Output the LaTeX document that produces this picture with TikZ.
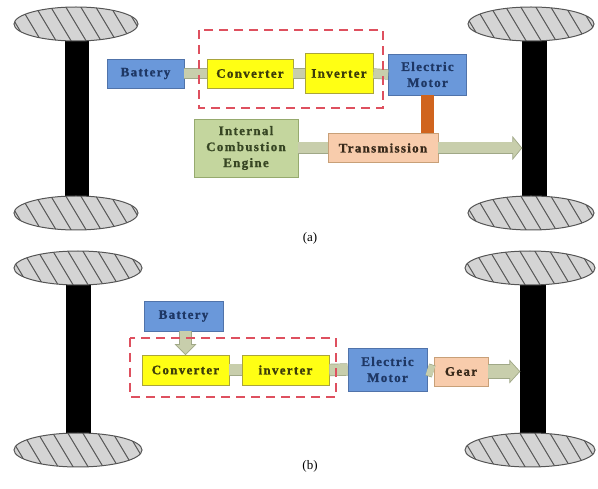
\documentclass[tikz,border=0pt]{standalone}
\usepackage{fontspec}
\setmainfont{Liberation Serif}
\newfontfamily\lblfam[LetterSpace=10, FakeBold=1.2]{Liberation Serif Bold}
\usetikzlibrary{calc}
\definecolor{bluef}{RGB}{106,152,218}
\definecolor{blued}{RGB}{80,115,170}
\definecolor{bluet}{RGB}{30,55,100}
\definecolor{yelf}{RGB}{255,255,20}
\definecolor{yeld}{RGB}{170,165,60}
\definecolor{yelt}{RGB}{60,60,10}
\definecolor{grnf}{RGB}{196,214,158}
\definecolor{grnd}{RGB}{150,170,110}
\definecolor{grnt}{RGB}{55,70,35}
\definecolor{pchf}{RGB}{248,204,172}
\definecolor{pchd}{RGB}{200,160,120}
\definecolor{pcht}{RGB}{55,40,25}
\definecolor{barf}{RGB}{200,206,172}
\definecolor{bard}{RGB}{160,168,135}
\definecolor{orng}{RGB}{208,100,30}
\definecolor{dashr}{RGB}{222,80,95}
\definecolor{tyref}{RGB}{212,212,212}
\definecolor{tyred}{RGB}{85,85,85}
\newcommand{\tyre}[3]{%
  \begin{scope}
    \clip (#1,#2) ellipse [x radius=#3, y radius=17];
    \fill[tyref] (#1,#2) ellipse [x radius=#3, y radius=17];
    \foreach \i in {-5,...,5}
      \draw[tyred, line width=1pt] ({#1+\i*15-12},{#2-20}) -- ({#1+\i*15+12},{#2+20});
  \end{scope}
  \draw[tyred, line width=1pt] (#1,#2) ellipse [x radius=#3, y radius=17];}
\tikzset{
  lbl/.style={font=\lblfam\fontsize{13}{16}\selectfont},
  box/.style={lbl, draw, line width=0.8pt, inner sep=0pt, align=center},
  bluebox/.style={box, fill=bluef, draw=blued, text=bluet},
  yelbox/.style={box, fill=yelf, draw=yeld, text=yelt},
  grnbox/.style={box, fill=grnf, draw=grnd, text=grnt},
  pchbox/.style={box, fill=pchf, draw=pchd, text=pcht},
  axle/.style={fill=black, inner sep=0pt, minimum width=24pt, minimum height=157pt},
  bar/.style={draw=bard, line width=0.7pt, double=barf, double distance=#1},
  bar/.default=9pt,
  head/.style={fill=barf, draw=bard, line width=0.7pt},
  dashbox/.style={draw=dashr, line width=1.6pt, dash pattern=on 9pt off 6pt},
  captxt/.style={font=\fontsize{13}{16}\selectfont}
}
\begin{document}
\begin{tikzpicture}[x=1pt,y=-1pt]
\useasboundingbox (0,0) rectangle (598,489);
\fill[white] (0,0) rectangle (598,489);
% ---------- (a) ----------
\node[axle] (axL1) at (77,118.5) {};
\node[axle, minimum width=25pt] (axR1) at (534.5,118.5) {};
\tyre{76}{24}{62}
\tyre{76}{213}{62}
\tyre{531}{24}{63}
\tyre{531}{213}{63}

\node[bluebox, minimum width=77pt, minimum height=29pt] (batA) at (145.5,73.5) {Battery};
\node[yelbox, minimum width=86pt, minimum height=29pt] (convA) at (250,73.5) {Converter};
\node[yelbox, minimum width=68pt, minimum height=40pt] (invA) at (339,73.5) {Inverter};
\node[bluebox, minimum width=78pt, minimum height=41pt] (motA) at (427.5,74.5) {Electric\\Motor};
\node[grnbox, minimum width=104pt, minimum height=58pt] (ice) at (246,148) {Internal\\Combustion\\Engine};
\node[pchbox, minimum width=110pt, minimum height=29pt] (trans) at (383,148) {Transmission};

\draw[bar] (batA.east) -- (convA.west);
\draw[bar] (convA.east) -- (invA.west);
\draw[bar] (invA.east) -- (motA.west);
\draw[bar=11pt] (ice.east) -- (trans.west);
\draw[orng, line width=13pt] (motA.south) -- (trans.north -| motA.south);
\coordinate (tipA) at (axR1.west |- trans.east);
\draw[bar=11pt] (trans.east) -- ([xshift=-9pt]tipA);
\draw[head] (tipA) -- ([shift={(-9pt,11pt)}]tipA) -- ([shift={(-9pt,-11pt)}]tipA) -- cycle;
\node[draw=none, fill=barf, inner sep=0pt, minimum width=2pt, minimum height=11pt] at ([xshift=-9pt]tipA) {};

\draw[dashbox] (199,30) rectangle (383,108);
\node[captxt] (capA) at (310,238) {(a)};

% ---------- (b) ----------
\node[axle, minimum width=25pt, minimum height=148pt] (axL2) at (78.5,359) {};
\node[axle, minimum width=26pt, minimum height=148pt] (axR2) at (533,359) {};
\tyre{78}{268}{64}
\tyre{78}{450}{64}
\tyre{530}{268}{65}
\tyre{530}{450}{65}

\node[bluebox, minimum width=79pt, minimum height=30pt] (batB) at (183.5,316) {Battery};
\node[yelbox, minimum width=87pt, minimum height=30pt] (convB) at (185.5,370) {Converter};
\node[yelbox, minimum width=87pt, minimum height=30pt] (invB) at (285.5,370) {inverter};
\node[bluebox, minimum width=79pt, minimum height=43pt] (motB) at (387.5,369.5) {Electric\\Motor};
\node[pchbox, minimum width=54pt, minimum height=29pt] (gear) at (461,371.5) {Gear};

\coordinate (tipB) at (convB.north);
\draw[bar=11pt] (batB.south -| tipB) -- ([yshift=10pt]tipB);
\draw[head] (tipB) -- ([shift={(-10pt,10pt)}]tipB) -- ([shift={(10pt,10pt)}]tipB) -- cycle;
\node[draw=none, fill=barf, inner sep=0pt, minimum width=11pt, minimum height=2pt] at ([yshift=10pt]tipB) {};
\draw[bar=11pt] (convB.east) -- (invB.west);
\draw[bar=11pt] (invB.east) -- (motB.west);
\draw[bar=11pt] (motB.east) -- (gear.west);
\coordinate (tipC) at (axR2.west |- gear.east);
\draw[bar=13pt] (gear.east) -- ([xshift=-10pt]tipC);
\draw[head] (tipC) -- ([shift={(-10pt,11pt)}]tipC) -- ([shift={(-10pt,-11pt)}]tipC) -- cycle;
\node[draw=none, fill=barf, inner sep=0pt, minimum width=2pt, minimum height=13pt] at ([xshift=-10pt]tipC) {};

\draw[dashbox] (130,338) rectangle (336,397);
\node[captxt] (capB) at (310,466) {(b)};
\end{tikzpicture}
\end{document}
